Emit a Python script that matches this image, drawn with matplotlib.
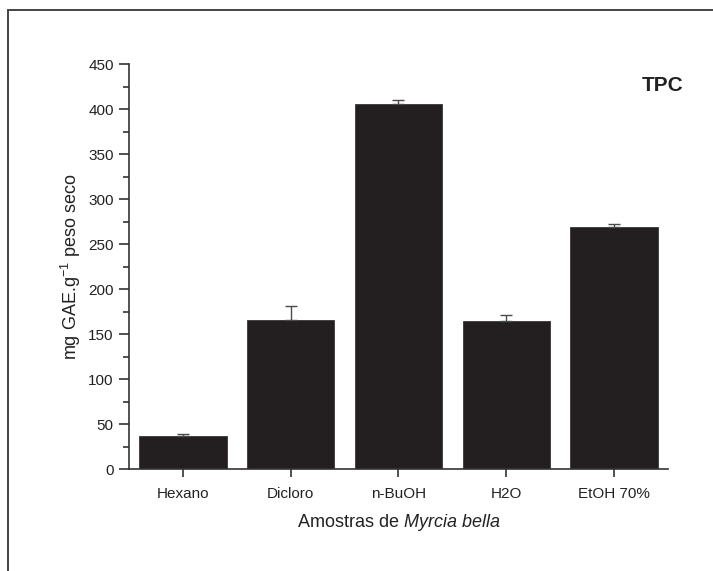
import matplotlib
matplotlib.use("Agg")
import matplotlib.pyplot as plt
from matplotlib.patches import Rectangle
from matplotlib.ticker import MultipleLocator

plt.rcParams['font.family'] = ['Liberation Sans', 'DejaVu Sans']
plt.rcParams['mathtext.fontset'] = 'custom'
plt.rcParams['mathtext.rm'] = 'Liberation Sans'
plt.rcParams['mathtext.it'] = 'Liberation Sans:italic'

# Conteúdo fenólico total por extrato
amostras = ["Hexano", "Dicloro", "n-BuOH", "H2O", "EtOH 70%"]
tpc = [37, 166, 406, 165, 269]
erro = [2, 16, 4, 6, 4]

fig = plt.figure(figsize=(7.13, 5.71), dpi=100)
ax = fig.add_axes([0.1809, 0.1781, 0.756, 0.7093])

# moldura externa
fig.patches.append(Rectangle((8 / 713, -0.1), 1.2, 1 - 10 / 571 + 0.1,
                             transform=fig.transFigure, fill=False,
                             edgecolor='#444444', linewidth=1.4))

pos = range(1, len(amostras) + 1)
ax.bar(pos, tpc, width=0.81, color='#231f20', edgecolor='#3a3637', linewidth=0.6, zorder=2)
ax.errorbar(pos, tpc, yerr=[[0] * len(erro), erro], fmt='none', ecolor='#4a4a4a',
            elinewidth=1.0, capsize=4, capthick=1.0, zorder=3)

ax.set_xlim(0.5, 5.5)
ax.set_ylim(0, 450)
ax.set_xticks(list(pos))
ax.set_xticklabels(amostras)
ax.yaxis.set_major_locator(MultipleLocator(50))
ax.yaxis.set_minor_locator(MultipleLocator(25))

for s in ['top', 'right']:
    ax.spines[s].set_visible(False)
for s in ['left', 'bottom']:
    ax.spines[s].set_linewidth(1.2)
    ax.spines[s].set_color('#333333')

ax.tick_params(axis='y', which='major', length=7, width=1.2, labelsize=11, pad=4, colors='#333333', labelcolor='#222222')
ax.tick_params(axis='y', which='minor', length=4, width=1.2, colors='#333333')
ax.tick_params(axis='x', which='major', length=6, width=1.2, labelsize=11, pad=7, colors='#333333', labelcolor='#222222')

ax.set_ylabel('mg GAE.g$^{-1}$ peso seco', fontsize=13, labelpad=4, color='#222222')
ax.set_xlabel('Amostras de $\\mathit{Myrcia\\ bella}$', fontsize=13, labelpad=8, color='#222222')

ax.text(1.028, 0.948, 'TPC', transform=ax.transAxes, ha='right', va='center',
        fontsize=15, fontweight='bold', color='#222222')

fig.savefig('out.png', dpi=100)
